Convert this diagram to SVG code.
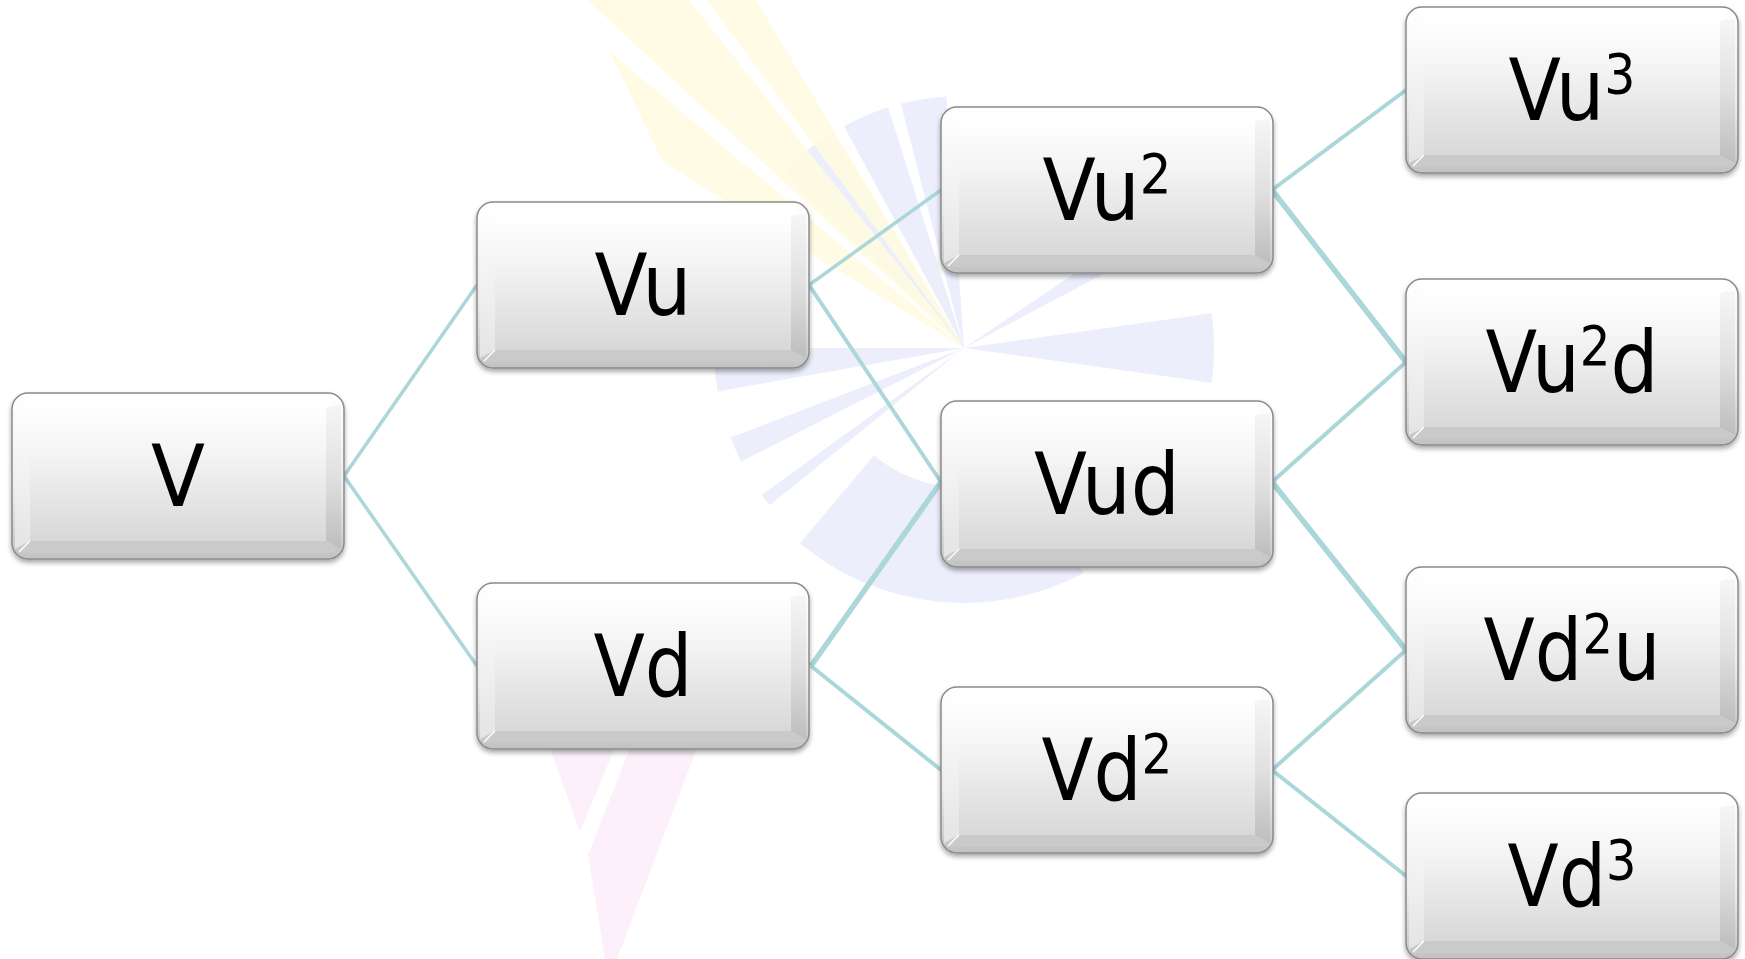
<svg xmlns="http://www.w3.org/2000/svg" xmlns:xlink="http://www.w3.org/1999/xlink" width="1745" height="959" viewBox="0 0 1745 959">
  <style>
    .lbl { font-family: "DejaVu Sans", "Liberation Sans", sans-serif; font-size: 86px; fill: #000000; text-anchor: middle; }
    .sup { font-size: 55px; }
    .link { stroke: #abd7d9; fill: none; stroke-linecap: butt; }
    .blue { fill: #eceefc; }
    .gap { fill: #ffffff; }
    .yellow { fill: #fffbe1; fill-opacity: 0.9; }
    .pink { fill: #fdf0fa; }
  </style>
  <defs>
    <linearGradient id="gOuter" x1="0" y1="0" x2="0" y2="1">
      <stop offset="0" stop-color="#ffffff"/>
      <stop offset="0.6" stop-color="#ececec"/>
      <stop offset="1" stop-color="#c2c2c2"/>
    </linearGradient>
    <linearGradient id="gFace" x1="0" y1="0" x2="0" y2="1">
      <stop offset="0" stop-color="#ffffff"/>
      <stop offset="0.35" stop-color="#f4f4f4"/>
      <stop offset="1" stop-color="#d8d8d8"/>
    </linearGradient>
    <linearGradient id="gLeft" x1="0" y1="0" x2="0" y2="1">
      <stop offset="0" stop-color="#fefefe"/>
      <stop offset="1" stop-color="#e4e4e4"/>
    </linearGradient>
    <linearGradient id="gRight" x1="0" y1="0" x2="0" y2="1">
      <stop offset="0" stop-color="#f6f6f6"/>
      <stop offset="0.5" stop-color="#e0e0e0"/>
      <stop offset="1" stop-color="#bdbdbd"/>
    </linearGradient>
    <filter id="drop" x="-5%" y="-5%" width="110%" height="120%">
      <feGaussianBlur in="SourceAlpha" stdDeviation="2.5"/>
      <feOffset dx="0" dy="3" result="b"/>
      <feComponentTransfer in="b" result="s">
        <feFuncA type="linear" slope="0.35"/>
      </feComponentTransfer>
      <feMerge>
        <feMergeNode in="s"/>
        <feMergeNode in="SourceGraphic"/>
      </feMerge>
    </filter>
    <!-- bevelled key shape, 332 x 166 -->
    <g id="key">
      <rect x="0" y="0" width="332" height="166" rx="16" ry="16" fill="url(#gOuter)" stroke="#8a8a8a" stroke-width="1.5"/>
      <polygon points="10,2 322,2 314,14 18,14" fill="#ffffff"/>
      <polygon points="3,12 18,14 18,148 3,156" fill="url(#gLeft)"/>
      <polygon points="329,12 314,14 314,148 329,156" fill="url(#gRight)"/>
      <polygon points="18,148 314,148 326,160 6,160" fill="#cacaca"/>
      <rect x="18" y="14" width="296" height="134" fill="url(#gFace)"/>
      <g stroke="#ffffff" stroke-width="1.5">
        <line x1="18" y1="148" x2="7" y2="159"/>
        <line x1="314" y1="14" x2="325" y2="5"/>
        <line x1="18" y1="14" x2="7" y2="5"/>
      </g>
    </g>
  </defs>

  <rect x="0" y="0" width="1745" height="959" fill="#ffffff"/>

  <!-- faint emblem in the background: rays around (964,348) -->
  <g id="emblem">
    <!-- upper fan with light gaps -->
    <path class="blue" d="M964,348 L783.8,171.0 A252,252 0 0 1 946.4,96.6 Z"/>
    <path class="gap" d="M964,348 L828.5,126.1 A260,260 0 0 1 840.3,119.3 Z"/>
    <path class="gap" d="M964,348 L885.8,100.0 A260,260 0 0 1 898.9,96.3 Z"/>
    <!-- right, upper-right and lower-left rays -->
    <path class="blue" d="M964,348 L1211.6,313.2 A250,250 0 0 1 1211.6,382.8 Z"/>
    <path class="blue" d="M964,348 L1109.1,250.1 A175,175 0 0 1 1118.5,265.9 Z"/>
    <path class="blue" d="M1083.7,573.1 A255,255 0 0 1 800.1,543.3 L874.0,455.2 A140,140 0 0 0 1029.7,471.6 Z"/>
    <path class="blue" d="M964,348 L769.7,505.3 A250,250 0 0 1 761.7,495.0 Z"/>
    <path class="blue" d="M964,348 L741.2,461.5 A250,250 0 0 1 730.6,437.6 Z"/>
    <path class="blue" d="M964,348 L717.8,391.4 A250,250 0 0 1 714,348 Z"/>
    <!-- yellow beams -->
    <polygon class="yellow" points="964,348 587,0 689,0"/>
    <polygon class="yellow" points="964,348 707,0 756,0"/>
    <polygon class="yellow" points="964,348 609,51 663,162"/>
    <!-- pink beams below -->
    <polygon class="pink" points="547,740 618,740 580,832"/>
    <polygon class="pink" points="633,740 700,740 617,959 605,959 588,855"/>
  </g>

  <!-- connectors -->
  <g id="connectors" class="link">
    <line x1="344" y1="476" x2="477" y2="285" stroke-width="3.5"/>
    <line x1="344" y1="476" x2="477" y2="666" stroke-width="3.5"/>
    <line x1="809" y1="285" x2="941" y2="190" stroke-width="3.5"/>
    <line x1="809" y1="285" x2="941" y2="482" stroke-width="4"/>
    <line x1="811" y1="666" x2="941" y2="482" stroke-width="5.5"/>
    <line x1="811" y1="666" x2="941" y2="770" stroke-width="4"/>
    <line x1="1272" y1="190" x2="1406" y2="90" stroke-width="4"/>
    <line x1="1272" y1="190" x2="1406" y2="362" stroke-width="5.5"/>
    <line x1="1272" y1="482" x2="1406" y2="362" stroke-width="4"/>
    <line x1="1272" y1="482" x2="1406" y2="650" stroke-width="5.5"/>
    <line x1="1272" y1="770" x2="1406" y2="650" stroke-width="4"/>
    <line x1="1272" y1="770" x2="1406" y2="876" stroke-width="4"/>
  </g>

  <!-- nodes -->
  <g id="node-V">
    <use href="#key" x="12" y="393" filter="url(#drop)"/>
    <text class="lbl" x="178" y="506" textLength="54" lengthAdjust="spacingAndGlyphs">V</text>
  </g>
  <g id="node-Vu">
    <use href="#key" x="477" y="202" filter="url(#drop)"/>
    <text class="lbl" x="643" y="315" textLength="97" lengthAdjust="spacingAndGlyphs">Vu</text>
  </g>
  <g id="node-Vd">
    <use href="#key" x="477" y="583" filter="url(#drop)"/>
    <text class="lbl" x="643" y="696" textLength="99" lengthAdjust="spacingAndGlyphs">Vd</text>
  </g>
  <g id="node-Vu2">
    <use href="#key" x="941" y="107" filter="url(#drop)"/>
    <text class="lbl" x="1107" y="220" textLength="129" lengthAdjust="spacingAndGlyphs">Vu<tspan class="sup" dy="-27">2</tspan></text>
  </g>
  <g id="node-Vud">
    <use href="#key" x="941" y="401" filter="url(#drop)"/>
    <text class="lbl" x="1107" y="514" textLength="146" lengthAdjust="spacingAndGlyphs">Vud</text>
  </g>
  <g id="node-Vd2">
    <use href="#key" x="941" y="687" filter="url(#drop)"/>
    <text class="lbl" x="1107" y="800" textLength="131" lengthAdjust="spacingAndGlyphs">Vd<tspan class="sup" dy="-27">2</tspan></text>
  </g>
  <g id="node-Vu3">
    <use href="#key" x="1406" y="7" filter="url(#drop)"/>
    <text class="lbl" x="1572" y="120" textLength="127" lengthAdjust="spacingAndGlyphs">Vu<tspan class="sup" dy="-27">3</tspan></text>
  </g>
  <g id="node-Vu2d">
    <use href="#key" x="1406" y="279" filter="url(#drop)"/>
    <text class="lbl" x="1572" y="392" textLength="173" lengthAdjust="spacingAndGlyphs">Vu<tspan class="sup" dy="-27">2</tspan><tspan dy="27">d</tspan></text>
  </g>
  <g id="node-Vd2u">
    <use href="#key" x="1406" y="567" filter="url(#drop)"/>
    <text class="lbl" x="1572" y="680" textLength="177" lengthAdjust="spacingAndGlyphs">Vd<tspan class="sup" dy="-27">2</tspan><tspan dy="27">u</tspan></text>
  </g>
  <g id="node-Vd3">
    <use href="#key" x="1406" y="793" filter="url(#drop)"/>
    <text class="lbl" x="1572" y="906" textLength="129" lengthAdjust="spacingAndGlyphs">Vd<tspan class="sup" dy="-27">3</tspan></text>
  </g>
</svg>
